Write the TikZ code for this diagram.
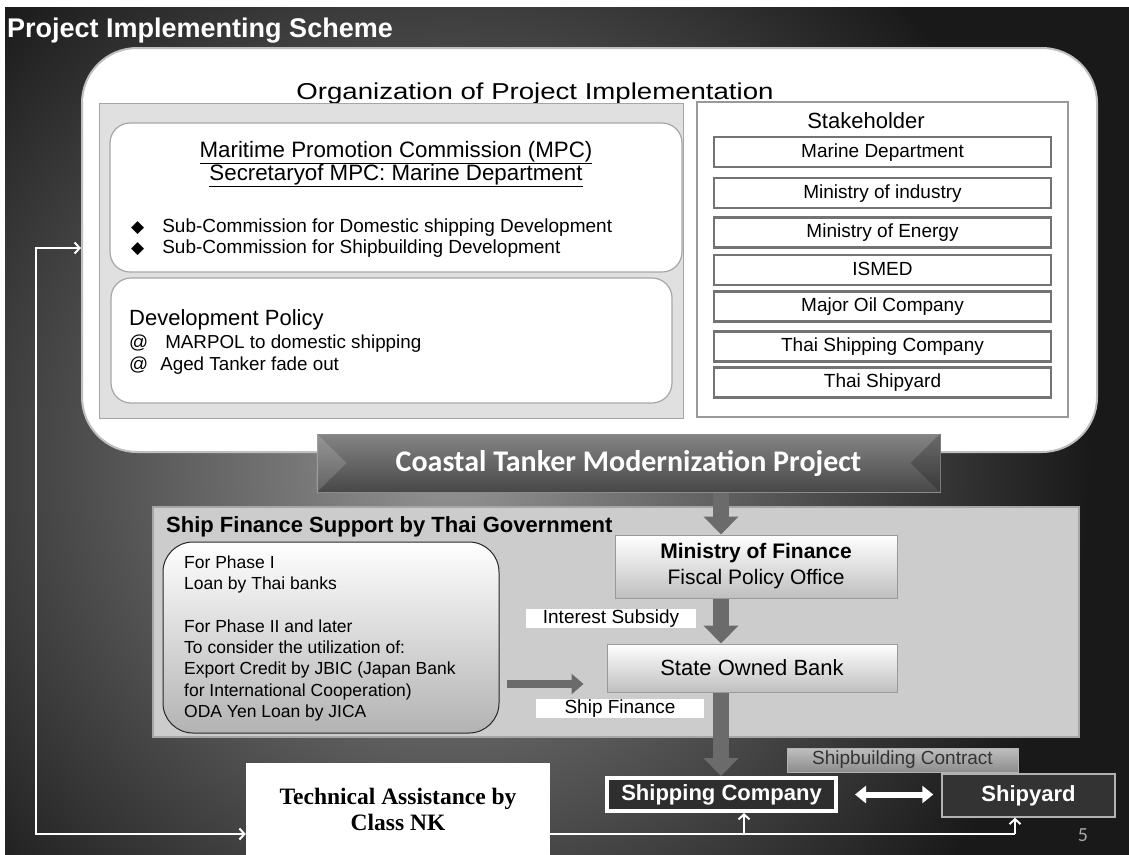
\documentclass[tikz,border=0pt]{standalone}
\usepackage{fontspec}
\setmainfont{Liberation Sans}
\newfontfamily\calfont{Carlito}
\newfontfamily\tafont{Liberation Serif}
\newfontfamily\symfont{DejaVu Sans}
\newfontfamily\widefont[FakeStretch=1.2]{Liberation Sans}
\usetikzlibrary{arrows.meta,positioning}

\begin{document}
\begin{tikzpicture}[x=1pt,y=-1pt,
  box/.style={rectangle, inner sep=0pt, align=center},
  rbox/.style={box, rounded corners=20pt, fill=white, draw=black!35, line width=1.2pt},
  stake/.style={box, draw=black!55, line width=2.5pt, fill=white, minimum width=337pt, minimum height=30pt, text height=14pt, text depth=4pt, font=\fontsize{19}{22}\selectfont},
  gbox/.style={box, top color=white, bottom color=black!25, draw=black!40, line width=1pt, font=\fontsize{21}{26}\selectfont},
  lab/.style={box, fill=white, minimum height=19pt, font=\fontsize{19}{19}\selectfont},
  txt/.style={inner sep=0pt, anchor=base west},
  bigarrow/.style={line width=16pt, draw=black!58, -{Triangle[width=34pt,length=18pt]}},
  wline/.style={draw=white, line width=2pt}]

\useasboundingbox (0,0) rectangle (1129,854);
\fill[black!90] (-5,-5) rectangle (1135,860);
\shade[inner color=black!42, outer color=black!90] (450,460) circle (640);
\fill[white] (-5,-5) rectangle (1135,7);
\fill[white] (-5,-5) rectangle (5,860);

\node(T) at (7,37)[txt, text=white, font=\bfseries\fontsize{27}{30}\selectfont]{Project Implementing Scheme};

\node(ORG) at (589.5,250)[box, minimum width=1015pt, minimum height=404pt, rounded corners=55pt, fill=white, draw=black!25, line width=2pt]{};
\node(OT) at (535,99)[inner sep=0pt, anchor=base, font=\widefont\fontsize{23}{26}\selectfont]{Organization of Project Implementation};

\node(LP) at (391,260.5)[box, minimum width=584pt, minimum height=315pt, fill=black!12, draw=black!35, line width=1pt]{};
\node(MPC) at (396,197.5)[rbox, minimum width=572pt, minimum height=149pt]{};
\node(M1) at (396,157)[inner sep=0pt, anchor=base, font=\fontsize{22.3}{24}\selectfont]{\underline{Maritime Promotion Commission (MPC)}};
\node(M2) at (396,180)[inner sep=0pt, anchor=base, font=\fontsize{22.3}{24}\selectfont]{\underline{Secretaryof MPC: Marine Department}};
\node(B1) at (131,232)[txt, font=\fontsize{19}{21}\selectfont]{{\symfont\fontsize{17}{17}\selectfont ◆}\hspace{18pt}Sub-Commission for Domestic shipping Development};
\node(B2) at (131,253)[txt, font=\fontsize{19}{21}\selectfont]{{\symfont\fontsize{17}{17}\selectfont ◆}\hspace{18pt}Sub-Commission for Shipbuilding Development};

\node(DP) at (391.5,340.5)[rbox, minimum width=561pt, minimum height=125pt]{};
\node(D1) at (129,325)[txt, font=\fontsize{22}{24}\selectfont]{Development Policy};
\node(D2) at (129,348)[txt, font=\fontsize{18.8}{21}\selectfont]{@\hspace{17pt}MARPOL to domestic shipping};
\node(D3) at (129,370)[txt, font=\fontsize{18.8}{21}\selectfont]{@\hspace{12pt}Aged Tanker fade out};

\node(RP) at (882.5,259.5)[box, minimum width=371pt, minimum height=315pt, fill=white, draw=black!40, line width=2pt]{};
\node(SH) at (866,128)[inner sep=0pt, anchor=base, font=\fontsize{22}{24}\selectfont]{Stakeholder};
\foreach \n/\y/\t in {1/152/Marine Department, 2/193/Ministry of industry, 3/232.5/Ministry of Energy, 4/270/ISMED, 5/306.5/Major Oil Company, 6/346.5/Thai Shipping Company, 7/382.5/Thai Shipyard}
  \node(S\n) at (882.5,\y)[stake]{\t};

\node(CT) at (628.5,463)[box, minimum width=623pt, minimum height=58pt, top color=black!48, bottom color=black!72, draw=black!45, line width=1pt, text=white, font=\calfont\bfseries\fontsize{30}{32}\selectfont]{Coastal Tanker Modernization Project};
\fill[white, opacity=.15](CT.north west)--([xshift=30pt]CT.west)--(CT.south west)--cycle;
\fill[black, opacity=.2](CT.north east)--([xshift=-30pt]CT.east)--(CT.south east)--cycle;

\node(SF) at (616,622)[box, minimum width=926pt, minimum height=230pt, fill=black!20, draw=black!35, line width=1.5pt]{};
\node(SFT) at (166,532)[txt, font=\bfseries\fontsize{22}{24}\selectfont]{Ship Finance Support by Thai Government};
\node(FB) at (331,637.5)[box, minimum width=336pt, minimum height=191pt, rounded corners=30pt, draw=black!85, line width=1pt, top color=white, bottom color=black!30]{};
\node(FT) at (184,555.5)[inner sep=0pt, anchor=north west, align=left, font=\fontsize{17.5}{21.3}\selectfont]{For Phase I\\Loan by Thai banks\\[21.3pt]For Phase II and later\\To consider the utilization of:\\Export Credit by JBIC (Japan Bank\\for International Cooperation)\\ODA Yen Loan by JICA};

\node(MOF) at (756,566.5)[gbox, minimum width=282pt, minimum height=63pt]{\textbf{Ministry of Finance}\\Fiscal Policy Office};
\node(SOB) at (752,668)[gbox, minimum width=290pt, minimum height=48pt, font=\fontsize{22}{26}\selectfont]{State Owned Bank};
\node(IS) at (611,618.5)[lab, minimum width=170pt]{Interest Subsidy};
\node(SFL) at (620,708.5)[lab, minimum width=168pt]{Ship Finance};

\node(TA) at (398,809)[box, minimum width=304pt, minimum height=92pt, fill=white, font=\tafont\bfseries\fontsize{23.5}{26}\selectfont]{Technical Assistance by\\Class NK};
\node(SBC) at (902.5,760)[box, minimum width=231pt, minimum height=24pt, top color=black!25, bottom color=black!45, draw=black!30, text=black!80, font=\fontsize{19}{20}\selectfont]{Shipbuilding Contract};
\node(SC) at (721.5,794.5)[box, minimum width=229pt, minimum height=33pt, fill=black!82, draw=white, line width=4pt, text=white, font=\bfseries\fontsize{22}{24}\selectfont]{Shipping Company};
\node(SY) at (1028.5,795.5)[box, minimum width=173pt, minimum height=43pt, fill=black!80, draw=black!30, line width=1.5pt, text=white, font=\bfseries\fontsize{22}{24}\selectfont]{Shipyard};
\node(P) at (1083,835)[text=black!35, font=\calfont\fontsize{20}{22}\selectfont]{5};

\coordinate(AX) at (721,0);
\draw[bigarrow](CT.south -| AX)--(MOF.north -| AX);
\draw[bigarrow](MOF.south -| AX)--(SOB.north -| AX);
\draw[bigarrow](SOB.south -| AX)--(SC.north -| AX);
\draw[line width=8pt, draw=black!58, -{Triangle[width=20pt,length=12pt]}, shorten <=7pt, shorten >=23pt]([yshift=-46.5pt]FB.east)--([yshift=-16pt]SOB.west);
\draw[draw=white, line width=6pt, {Triangle[width=17pt,length=11pt]}-{Triangle[width=17pt,length=11pt]}, shorten <=17pt, shorten >=8pt](SC.east)--(SC.east -| SY.west);

\coordinate(LT) at (36,248);
\coordinate(LB) at (36,834);
\coordinate(CB) at (744,834);
\coordinate(RB) at (1015,834);
\draw[wline, {Straight Barb[length=5pt,width=11pt]}-{Straight Barb[length=5pt,width=11pt]}](ORG.west |- LT)--(LT)--(LB)--(TA.west |- LB);
\draw[wline](TA.east |- RB)--(RB);
\draw[wline, -{Straight Barb[length=5pt,width=11pt]}](CB)--(CB |- SC.south);
\draw[wline, -{Straight Barb[length=5pt,width=11pt]}](RB)--(RB |- SY.south);

\end{tikzpicture}
\end{document}
